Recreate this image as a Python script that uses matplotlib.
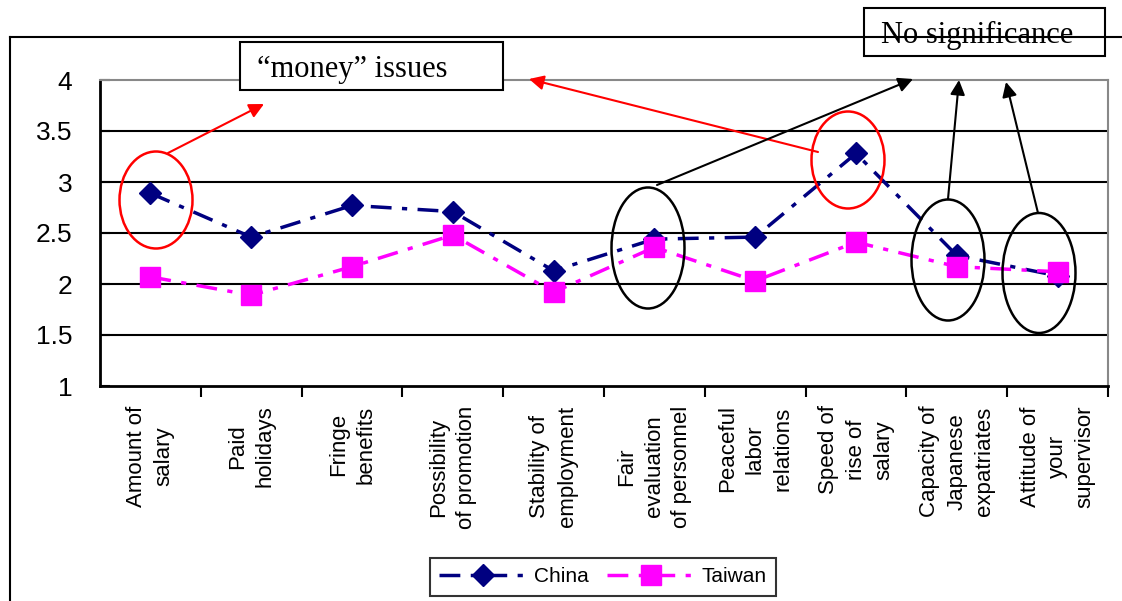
import matplotlib
matplotlib.use("Agg")
from matplotlib import pyplot as plt
from matplotlib.patches import Ellipse, Rectangle, FancyArrowPatch
import numpy as np

# survey items and mean scores
categories = [
    "Amount of\nsalary",
    "Paid\nholidays",
    "Fringe\nbenefits",
    "Possibility\nof promotion",
    "Stability of\nemployment",
    "Fair\nevaluation\nof personnel",
    "Peaceful\nlabor\nrelations",
    "Speed of\nrise of\nsalary",
    "Capacity of\nJapanese\nexpatriates",
    "Attitude of\nyour\nsupervisor",
]
china = [2.89, 2.46, 2.77, 2.71, 2.13, 2.44, 2.46, 3.28, 2.28, 2.08]
taiwan = [2.07, 1.89, 2.17, 2.48, 1.92, 2.36, 2.03, 2.41, 2.17, 2.12]
y_ticks = [1, 1.5, 2, 2.5, 3, 3.5, 4]

sans = ["Liberation Sans", "DejaVu Sans"]
serif = ["Liberation Serif", "DejaVu Serif"]

W, H = 1122, 601
fig = plt.figure(figsize=(W / 100, H / 100), dpi=100)
ax = fig.add_axes([100 / W, 1 - 386 / H, 1008 / W, 306 / H])

x = np.arange(len(categories))
dash = (0, (6, 3, 1.5, 3))
ax.plot(x, china, color="#000080", lw=2.5, linestyle=dash, marker="D",
        markersize=11, label="China", zorder=3)
ax.plot(x, taiwan, color="#FF00FF", lw=2.5, linestyle=dash, marker="s",
        markersize=14, label="Taiwan", zorder=4)

ax.set_xlim(-0.5, len(categories) - 0.5)
ax.set_ylim(1, 4)
ax.set_yticks(y_ticks)
ax.set_yticklabels([f"{v:g}" for v in y_ticks], fontsize=19, family=sans)
for v in y_ticks[1:-1]:
    ax.axhline(v, color="black", lw=1.5, zorder=1)

ax.set_xticks(x)
ax.set_xticklabels(categories, rotation=90, fontsize=16, family=sans,
                   va="top", ha="center", multialignment="center",
                   linespacing=1.4)
ax.set_xticks(np.arange(0.5, len(categories)), minor=True)
ax.tick_params(axis="x", which="major", length=0, pad=14)
ax.tick_params(axis="x", which="minor", length=8, width=1.5, direction="out")
ax.tick_params(axis="y", length=7, width=1.5, direction="in", pad=20)

for side in ("left", "bottom"):
    ax.spines[side].set_linewidth(2)
for side in ("top", "right"):
    ax.spines[side].set_color("#888888")
    ax.spines[side].set_linewidth(1.5)

leg = ax.legend(loc="center", bbox_to_anchor=(603 / W, 24 / H),
                bbox_transform=fig.transFigure, ncol=2, frameon=True,
                fancybox=False, edgecolor="black", handlelength=4.2,
                columnspacing=0.9, handletextpad=0.35, borderpad=0.45,
                prop={"family": sans, "size": 15})
leg.get_frame().set_linewidth(1.5)

# overlay in pixel coordinates for the callouts
ov = fig.add_axes([0, 0, 1, 1], zorder=10)
ov.set_xlim(0, W)
ov.set_ylim(H, 0)
ov.axis("off")
ov.patch.set_alpha(0)

ov.plot([10, W], [37, 37], color="black", lw=1.5)
ov.plot([10, 10], [37, H], color="black", lw=1.5)

ov.add_patch(Rectangle((240, 42), 263, 48, facecolor="white",
                       edgecolor="black", lw=1.5))
ov.text(257, 69, "\u201cmoney\u201d issues", fontsize=22, family=serif,
        va="center", ha="left")
ov.add_patch(Rectangle((864, 8), 241, 48, facecolor="white",
                       edgecolor="black", lw=1.5))
ov.text(881, 35, "No significance", fontsize=22, family=serif,
        va="center", ha="left")

for cx, cy, w, h, c in [(156, 200, 73, 97, "red"), (848, 160, 73, 97, "red"),
                        (648, 248, 73, 121, "black"), (948, 260, 73, 121, "black"),
                        (1039, 273, 73, 120, "black")]:
    ov.add_patch(Ellipse((cx, cy), w, h, fill=False, edgecolor=c, lw=1.8))

for (x0, y0), (x1, y1), c in [((168, 153), (264, 104), "red"),
                              ((818, 152), (529, 79), "red"),
                              ((657, 185), (913, 79), "black"),
                              ((948, 199), (959, 80), "black"),
                              ((1038, 213), (1006, 82), "black")]:
    ov.add_patch(FancyArrowPatch((x0, y0), (x1, y1), arrowstyle="-|>",
                                 mutation_scale=22, color=c, lw=1.5,
                                 shrinkA=0, shrinkB=0))

fig.savefig("out.png", dpi=100)
